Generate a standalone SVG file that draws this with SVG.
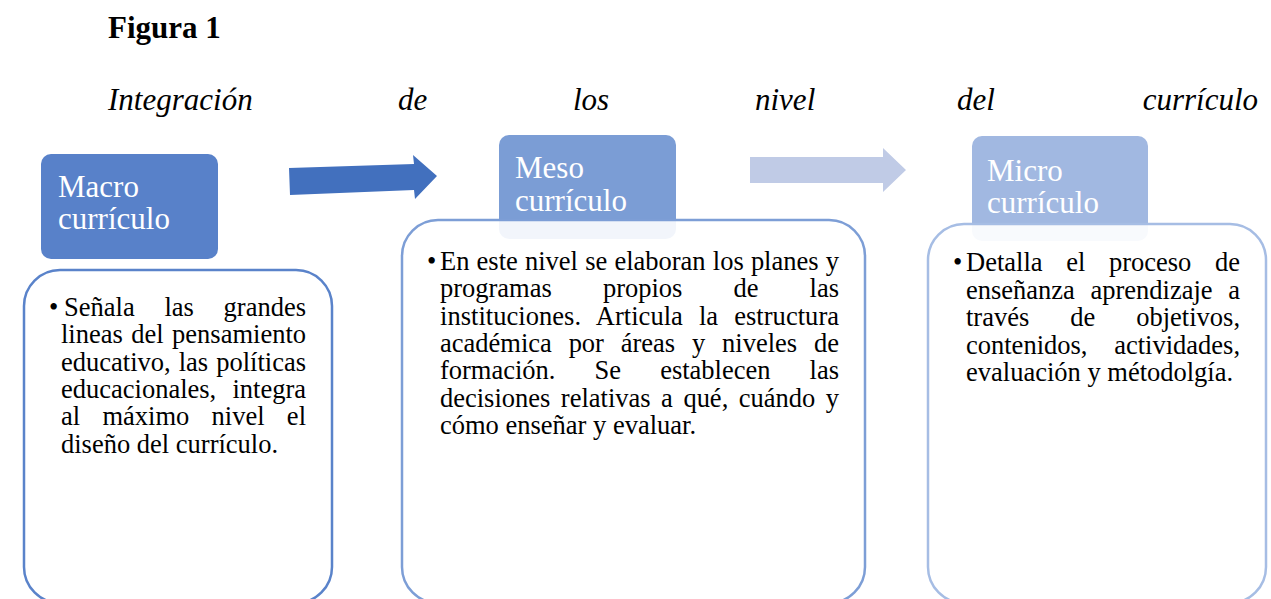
<svg xmlns="http://www.w3.org/2000/svg" width="1271" height="599" viewBox="0 0 1271 599">
<style>
.title{font-family:"Liberation Serif","Times New Roman",serif;font-weight:bold;font-size:31px;fill:#000}
.sub{font-family:"Liberation Serif","Times New Roman",serif;font-style:italic;font-size:31px;fill:#000}
.hd{font-family:"Liberation Serif","Times New Roman",serif;font-size:31px;fill:#fff}
.bd{font-family:"Liberation Serif","Times New Roman",serif;font-size:26.5px;fill:#000}
.box{fill:#fff;stroke-width:2.5}
</style>
<rect width="1271" height="599" fill="#fff"/>
<text class="title" x="108" y="38">Figura 1</text>
<g id="subtitle">
<text class="sub" x="108" y="110">Integración</text>
<text class="sub" x="398" y="110">de</text>
<text class="sub" x="573" y="110">los</text>
<text class="sub" x="755" y="110">nivel</text>
<text class="sub" x="957" y="110">del</text>
<text class="sub" x="1258" y="110" text-anchor="end">currículo</text>
</g>
<g id="connectors">
<polygon points="289,168 414,164 413,155 437,176 415,199 414,190 290,195" fill="#4270BE"/>
<polygon points="750,157 883,157 883,148 906,170 883,192 883,183 750,183" fill="#C0CBE6"/>
</g>
<g id="node-macro">
<rect x="41" y="154" width="177" height="105" rx="10" fill="#5881C9"/>
<text class="hd" x="58" y="197">Macro</text>
<text class="hd" x="58" y="229">currículo</text>
<rect class="box" x="24" y="270" width="308" height="333" rx="36" stroke="#5A83CA"/>
<text class="bd" x="49" y="316">•</text>
<text class="bd" x="64" y="316" word-spacing="23.1" textLength="242" lengthAdjust="spacing">Señala las grandes</text>
<text class="bd" x="61" y="343.3" word-spacing="1.8" textLength="245" lengthAdjust="spacing">lineas del pensamiento</text>
<text class="bd" x="61" y="370.6" word-spacing="1.4" textLength="245" lengthAdjust="spacing">educativo, las políticas</text>
<text class="bd" x="61" y="397.9" word-spacing="9.6" textLength="245" lengthAdjust="spacing">educacionales, integra</text>
<text class="bd" x="61" y="425.2" word-spacing="15.7" textLength="245" lengthAdjust="spacing">al máximo nivel el</text>
<text class="bd" x="61" y="452.5">diseño del currículo.</text>
</g>
<g id="node-meso">
<rect x="499" y="135" width="177" height="104" rx="10" fill="#7B9DD5"/>
<text class="hd" x="515" y="178">Meso</text>
<text class="hd" x="515" y="211">currículo</text>
<rect class="box" x="402" y="220" width="463" height="383" rx="36" stroke="#7D9ED6" fill-opacity="0.9"/>
<text class="bd" x="427" y="270">•</text>
<text class="bd" x="440" y="270" word-spacing="0.55" textLength="399" lengthAdjust="spacing">En este nivel se elaboran los planes y</text>
<text class="bd" x="440" y="297.3" word-spacing="44.5" textLength="399" lengthAdjust="spacing">programas propios de las</text>
<text class="bd" x="440" y="324.6" word-spacing="9.4" textLength="399" lengthAdjust="spacing">instituciones. Articula la estructura</text>
<text class="bd" x="440" y="351.9" word-spacing="10.2" textLength="399" lengthAdjust="spacing">académica por áreas y niveles de</text>
<text class="bd" x="440" y="379.2" word-spacing="32.5" textLength="399" lengthAdjust="spacing">formación. Se establecen las</text>
<text class="bd" x="440" y="406.5" word-spacing="3.9" textLength="399" lengthAdjust="spacing">decisiones relativas a qué, cuándo y</text>
<text class="bd" x="440" y="433.8">cómo enseñar y evaluar.</text>
</g>
<g id="node-micro">
<rect x="972" y="136" width="176" height="105" rx="10" fill="#A1B8E1"/>
<text class="hd" x="987" y="181">Micro</text>
<text class="hd" x="987" y="213">currículo</text>
<rect class="box" x="928" y="224" width="338" height="379" rx="36" stroke="#A6BDE4" fill-opacity="0.92"/>
<text class="bd" x="953" y="271">•</text>
<text class="bd" x="966" y="271" word-spacing="17" textLength="274" lengthAdjust="spacing">Detalla el proceso de</text>
<text class="bd" x="966" y="298.5" word-spacing="9" textLength="274" lengthAdjust="spacing">enseñanza aprendizaje a</text>
<text class="bd" x="966" y="326" word-spacing="34.3" textLength="274" lengthAdjust="spacing">través de objetivos,</text>
<text class="bd" x="966" y="353.5" word-spacing="20.1" textLength="274" lengthAdjust="spacing">contenidos, actividades,</text>
<text class="bd" x="966" y="381">evaluación y métodolgía.</text>
</g>
</svg>
